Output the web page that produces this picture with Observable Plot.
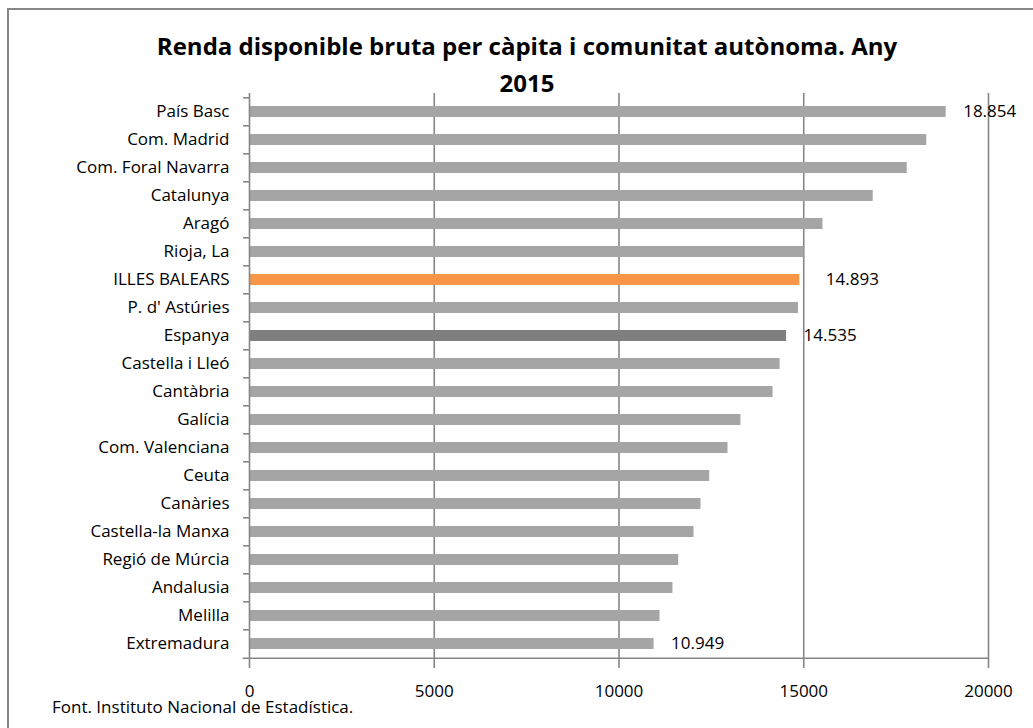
<!DOCTYPE html>
<html><head><meta charset="utf-8">
<script src="https://cdn.jsdelivr.net/npm/d3@7"></script>
<script src="https://cdn.jsdelivr.net/npm/@observablehq/plot@0.6"></script>
<style>
html,body{margin:0;padding:0;background:#fff;overflow:hidden;}
#wrap{position:relative;width:1033px;height:728px;font-family:"Open Sans",sans-serif;overflow:hidden;}
#frame{position:absolute;left:7px;top:8px;width:1100px;height:800px;border:2px solid #868686;box-sizing:border-box;}
#chart{position:absolute;left:0;top:0;}
#title{position:absolute;left:0;width:1054px;top:27px;text-align:center;font-weight:bold;font-size:24px;line-height:37px;color:#000;}
#note{position:absolute;left:52px;top:697px;font-size:17px;line-height:20px;color:#000;white-space:nowrap;}
</style></head>
<body>
<div id="wrap">
  <div id="frame"></div>
  <div id="chart"></div>
  <div id="title">Renda disponible bruta per càpita i comunitat autònoma. Any<br>2015</div>
  <div id="note">Font. Instituto Nacional de Estadística.</div>
</div>
<script>
const categories = ["País Basc","Com. Madrid","Com. Foral Navarra","Catalunya","Aragó","Rioja, La","ILLES BALEARS","P. d' Astúries","Espanya","Castella i Lleó","Cantàbria","Galícia","Com. Valenciana","Ceuta","Canàries","Castella-la Manxa","Regió de Múrcia","Andalusia","Melilla","Extremadura"];
const values = [18854,18330,17800,16880,15520,15010,14893,14857,14535,14360,14170,13300,12950,12455,12220,12030,11615,11460,11110,10949];
const labeled = ["País Basc","Espanya","Extremadura"];
const highlighted = ["ILLES BALEARS"];
const xTicks = [0,5000,10000,15000,20000];
const gridTicks = [5000,10000,15000,20000];

const data = categories.map((name,i)=>({name, value: values[i]}));
const fmt = d3.formatLocale({decimal:",",thousands:".",grouping:[3],currency:["","€"]}).format(",d");
const grey = "#868686";
const sw = 1.6;
const step = (662-93)/categories.length;
const tickOut = -175; // axis tick length (≈6.5px) expressed in x units

const chart = Plot.plot({
  width:1033, height:728,
  marginLeft:249, marginRight:45, marginTop:93, marginBottom:66,
  style:{fontFamily:"'Open Sans', sans-serif", fontSize:"17px", color:"#000", background:"transparent", overflow:"visible"},
  x:{domain:[0,20000]},
  y:{domain:categories, paddingInner:0.61, paddingOuter:0.305},
  marks:[
    Plot.ruleX(gridTicks,{stroke:grey, strokeWidth:sw}),
    Plot.barX(data,{x:"value", y:"name",
      fill: d => d.name === "ILLES BALEARS" ? "#f79646" : d.name === "Espanya" ? "#7f7f7f" : "#a5a5a5"}),
    Plot.ruleX([0],{stroke:grey, strokeWidth:sw}),
    Plot.link(categories,{x1:tickOut, x2:0, y1:d=>d, y2:d=>d, dy:-step/2, stroke:grey, strokeWidth:sw}),
    Plot.ruleY([categories[categories.length-1]],{y:d=>d, x1:tickOut, x2:20000, dy:step/2, stroke:grey, strokeWidth:sw}),
    Plot.axisX({ticks:xTicks, tickSize:6, tickPadding:16, stroke:grey, strokeWidth:sw, fill:"#000", fontSize:17, tickFormat:d3.format("d"), label:null}),
    Plot.axisY({tickSize:0, tickPadding:20, fontSize:17, fill:"#000", label:null}),
    Plot.text(data.filter(d=>labeled.includes(d.name)),{x:"value", y:"name", text:d=>fmt(d.value), textAnchor:"start", dx:17, fontSize:17, fill:"#000"}),
    Plot.text(data.filter(d=>highlighted.includes(d.name)),{x:"value", y:"name", text:d=>fmt(d.value), textAnchor:"start", dx:26, fontSize:17, fill:"#000"})
  ]
});
document.getElementById("chart").appendChild(chart);
</script>
</body></html>
